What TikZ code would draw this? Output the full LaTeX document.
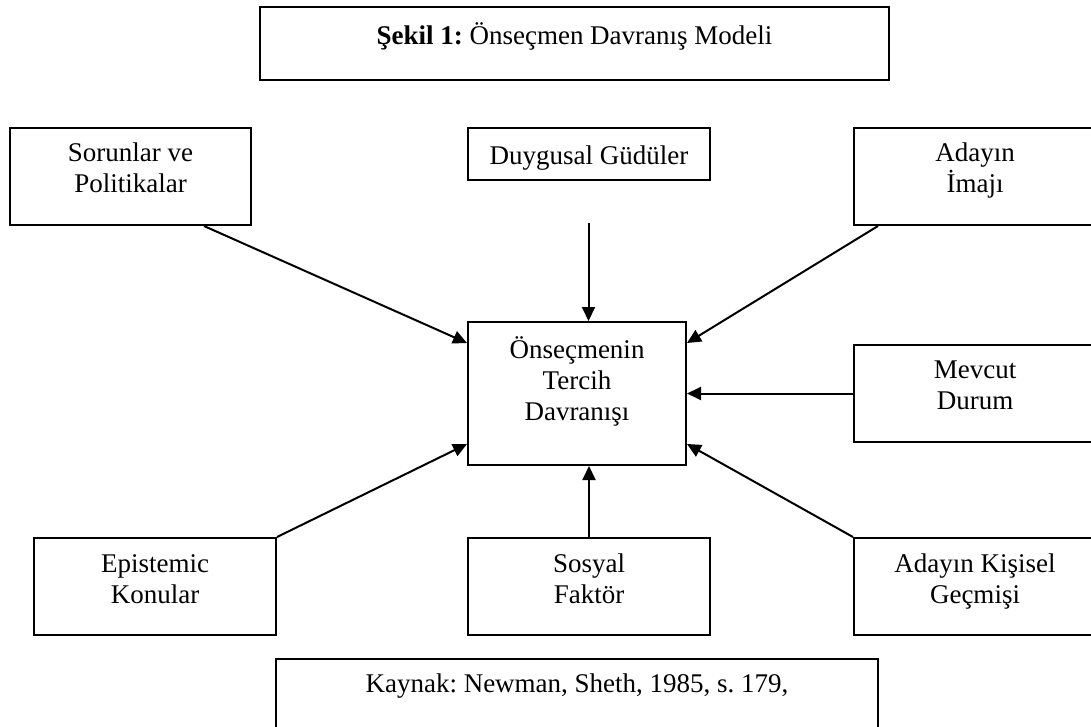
\documentclass[tikz,border=0pt]{standalone}
\usepackage{fontspec}
\setmainfont{Liberation Serif}
\frenchspacing
\usetikzlibrary{arrows.meta}
\begin{document}
\begin{tikzpicture}[x=1pt,y=-1pt,
  box/.style={draw, line width=2pt, inner sep=0pt, anchor=north west},
  txt/.style={anchor=north, align=center, inner sep=0pt, font=\fontsize{27}{31}\selectfont, execute at begin node=\strut},
  arr/.style={line width=2pt, -{Triangle[length=14pt,width=13pt]}}]
\useasboundingbox (0,0) rectangle (1091,727);
\clip (0,0) rectangle (1091,727);
\fill[white] (0,0) rectangle (1091,727);
% boxes
\node[box, minimum width=629pt, minimum height=73pt] (title) at (259,6) {};
\node[box, minimum width=241pt, minimum height=97pt] (sorunlar) at (9,127) {};
\node[box, minimum width=242pt, minimum height=52pt] (duygusal) at (467,127) {};
\node[box, minimum width=242pt, minimum height=97pt] (imaji) at (853,127) {};
\node[box, minimum width=218pt, minimum height=143pt] (center) at (467,321) {};
\node[box, minimum width=242pt, minimum height=97pt] (mevcut) at (853,344) {};
\node[box, minimum width=242pt, minimum height=97pt] (epistemic) at (33,537) {};
\node[box, minimum width=242pt, minimum height=97pt] (sosyal) at (467,537) {};
\node[box, minimum width=242pt, minimum height=97pt] (kisisel) at (853,537) {};
\node[box, minimum width=602pt, minimum height=90pt] (kaynak) at (275,658) {};
% texts
\node[txt] (ttitle) at ([yshift=-16pt]title.north) {\textbf{Şekil 1:} Önseçmen Davranış Modeli};
\node[txt] (tsorunlar) at ([yshift=-16pt]sorunlar.north) {Sorunlar ve\\Politikalar};
\node[txt] (tduygusal) at ([yshift=-16pt]duygusal.north) {Duygusal Güdüler};
\node[txt] (timaji) at ([yshift=-16pt]imaji.north) {Adayın\\İmajı};
\node[txt] (tcenter) at ([yshift=-15pt]center.north) {Önseçmenin\\Tercih\\Davranışı};
\node[txt] (tmevcut) at ([yshift=-17pt]mevcut.north) {Mevcut\\Durum};
\node[txt] (tepistemic) at ([yshift=-17pt]epistemic.north) {Epistemic\\Konular};
\node[txt] (tsosyal) at ([yshift=-17pt]sosyal.north) {Sosyal\\Faktör};
\node[txt] (tkisisel) at ([yshift=-17pt]kisisel.north) {Adayın Kişisel\\Geçmişi};
\node[txt] (tkaynak) at ([yshift=-13pt]kaynak.north) {Kaynak: Newman, Sheth, 1985, s. 179,};
% connectors
\coordinate (dstart) at (588.5,223);
\draw[arr] ([xshift=73.5pt]sorunlar.south) -- ([yshift=-22pt]center.north west);
\draw[arr] (dstart) -- (dstart |- center.north);
\draw[arr] ([xshift=25pt]imaji.south west) -- ([yshift=-22pt]center.north east);
\draw[arr] (mevcut.west) -- (center.east |- mevcut.west);
\draw[arr] (epistemic.north east) -- ([yshift=22pt]center.south west);
\draw[arr] (sosyal.north) -- (sosyal.north |- center.south);
\draw[arr] (kisisel.north west) -- ([yshift=22pt]center.south east);
\end{tikzpicture}
\end{document}
